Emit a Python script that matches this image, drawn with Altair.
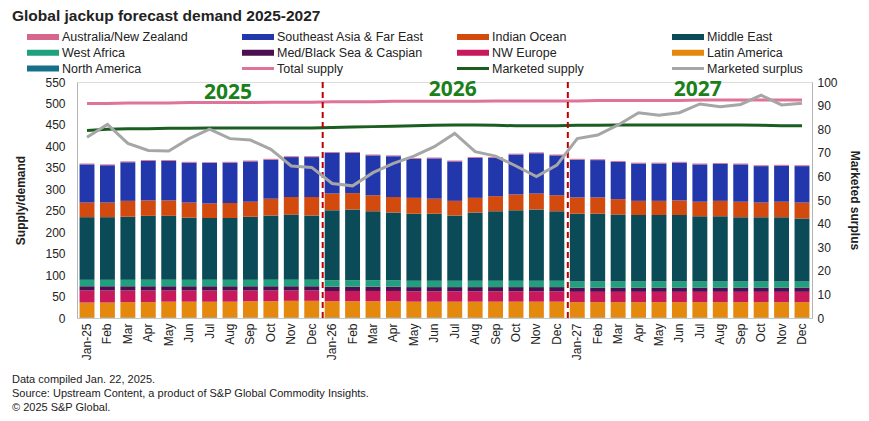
import altair as alt
import pandas as pd

# ---------------- data ----------------
month_names = ["Jan", "Feb", "Mar", "Apr", "May", "Jun", "Jul", "Aug", "Sep", "Oct", "Nov", "Dec"]
year_suffixes = ["25", "26", "27"]
periods = [f"{m}-{y}" for y in year_suffixes for m in month_names]

# stacked demand by region (bottom to top)
north_america = [1, 1, 1, 1, 1, 1, 1, 1, 1, 1, 1, 1,
                 1, 1, 1, 1, 1, 1, 1, 1, 1, 1, 1, 1,
                 1, 1, 1, 1, 1, 1, 1, 1, 1, 1, 1, 1]
latin_america = [35, 35, 36, 36, 37, 37, 37, 37, 38, 38, 39, 39,
                 38, 38, 38, 38, 37, 37, 37, 37, 37, 37, 37, 37,
                 36, 36, 36, 36, 36, 36, 36, 36, 36, 36, 36, 36]
nw_europe = [28, 28, 27, 27, 26, 26, 26, 26, 25, 25, 24, 24,
             24, 24, 24, 24, 24, 24, 24, 24, 24, 24, 24, 24,
             24, 24, 24, 24, 24, 24, 24, 24, 24, 24, 24, 24]
med_black_sea = [10, 10, 10, 10, 10, 10, 10, 10, 10, 10, 10, 10,
                 10, 10, 10, 10, 10, 10, 10, 10, 10, 10, 10, 10,
                 10, 10, 10, 10, 10, 10, 10, 10, 10, 10, 10, 10]
west_africa = [15, 15, 15, 15, 15, 15, 15, 15, 15, 15, 15, 15,
               15, 15, 15, 15, 15, 15, 15, 15, 15, 15, 15, 15,
               14, 14, 14, 14, 14, 14, 14, 14, 14, 14, 14, 14]
middle_east = [146, 146, 147, 149, 149, 145, 144, 144, 147, 150, 152, 150,
               163, 165, 161, 158, 156, 156, 152, 159, 162, 164, 166, 162,
               158, 158, 156, 155, 155, 155, 152, 152, 150, 150, 150, 147]
indian_ocean = [34, 34, 37, 36, 36, 35, 34, 35, 35, 39, 41, 43,
                39, 38, 37, 36, 37, 35, 34, 34, 35, 37, 37, 37,
                38, 38, 36, 33, 33, 34, 34, 36, 36, 34, 36, 37]
southeast_asia = [89, 87, 90, 92, 92, 93, 94, 94, 94, 91, 93, 93,
                  95, 94, 93, 95, 91, 94, 92, 93, 89, 93, 94, 93,
                  88, 87, 87, 87, 87, 88, 87, 86, 87, 85, 84, 85]
australia_nz = [2, 2, 2, 2, 2, 2, 2, 2, 2, 2, 2, 2,
                2, 2, 2, 2, 2, 2, 2, 2, 2, 2, 2, 2,
                2, 2, 2, 2, 2, 2, 2, 2, 2, 2, 2, 2]

total_supply = [500, 500, 501, 501, 501, 502, 502, 502, 502, 503, 503, 503,
                504, 504, 504, 505, 505, 505, 505, 505, 506, 506, 506, 506,
                506, 507, 507, 507, 507, 507, 508, 508, 508, 508, 508, 508]
marketed_supply = [437, 440, 441, 441, 442, 442, 443, 443, 443, 443, 443, 443,
                   444, 445, 446, 447, 448, 449, 450, 450, 449, 448, 448, 448,
                   449, 449, 450, 450, 450, 450, 450, 450, 450, 449, 448, 448]
marketed_surplus = [76.6, 82.0, 74.0, 71.0, 70.8, 76.0, 80.0, 76.0, 75.4, 71.5, 64.4, 63.8,
                    57.0, 56.0, 61.6, 65.5, 68.6, 72.6, 78.2, 70.5, 68.6, 64.4, 59.9, 64.8,
                    76.0, 77.5, 81.8, 87.0, 85.9, 87.0, 90.7, 89.5, 90.5, 94.4, 90.3, 91.0]

region_names = ["North America", "Latin America", "NW Europe", "Med/Black Sea & Caspian",
                "West Africa", "Middle East", "Indian Ocean", "Southeast Asia & Far East",
                "Australia/New Zealand"]
region_values = [north_america, latin_america, nw_europe, med_black_sea, west_africa,
                 middle_east, indian_ocean, southeast_asia, australia_nz]

legend_names = ["Australia/New Zealand", "Southeast Asia & Far East", "Indian Ocean", "Middle East",
                "West Africa", "Med/Black Sea & Caspian", "NW Europe", "Latin America",
                "North America", "Total supply", "Marketed supply", "Marketed surplus"]
legend_kinds = ["bar"] * 9 + ["line"] * 3

year_labels = ["2025", "2026", "2027"]
year_label_periods = ["Aug-25", "Jul-26", "Jul-27"]
year_label_levels = [524, 532, 532]

footnotes = ["Data compiled Jan. 22, 2025.",
             "Source: Upstream Content, a product of S&P Global Commodity Insights.",
             "\u00a9 2025 S&P Global."]

# ---------------- styles ----------------
palette = {
    "Australia/New Zealand": "#d6678c",
    "Southeast Asia & Far East": "#2337ac",
    "Indian Ocean": "#d24a0e",
    "Middle East": "#0b4b57",
    "West Africa": "#20a07d",
    "Med/Black Sea & Caspian": "#4b0e50",
    "NW Europe": "#c8195c",
    "Latin America": "#e4890e",
    "North America": "#16708a",
    "Total supply": "#e07399",
    "Marketed supply": "#1b5e20",
    "Marketed surplus": "#a6a6a6",
}
FONT = "Liberation Sans"
TXT = "#222222"

# ---------------- frames ----------------
rows = []
for s, (name, vals) in enumerate(zip(region_names, region_values)):
    for p, v in zip(periods, vals):
        rows.append({"period": p, "series": name, "value": v, "stack": s})
bars_df = pd.DataFrame(rows)

lines_df = pd.DataFrame({"period": periods, "total": total_supply,
                         "marketed": marketed_supply, "surplus": marketed_surplus})
bounds_df = pd.DataFrame({"period": ["Jan-26", "Jan-27"]})
years_df = pd.DataFrame({"period": year_label_periods, "label": year_labels, "level": year_label_levels})

leg_df = pd.DataFrame({"series": legend_names, "kind": legend_kinds,
                       "col": [i % 4 for i in range(len(legend_names))],
                       "row": [i // 4 for i in range(len(legend_names))]})
FOOT_ROW0 = 21.78
FOOT_STEP = 0.89
foot_df = pd.DataFrame({"text": footnotes, "col": [0] * len(footnotes),
                        "row": [FOOT_ROW0 + FOOT_STEP * i for i in range(len(footnotes))]})

color_scale = alt.Scale(domain=legend_names, range=[palette[n] for n in legend_names])

x_axis = alt.Axis(title=None, labelAngle=270, ticks=False, labelPadding=5,
                  labelExpr="indexof(datum.value, 'Jan') == 0 ? datum.value : slice(datum.value, 0, 3)",
                  labelOverlap=False, domainColor="#c8c8c8", labelFontSize=12,
                  labelFont=FONT, labelColor=TXT)
x_scale = alt.Scale(paddingInner=0.27, paddingOuter=0.125)


def X(**kw):
    return alt.X("period:N", sort=periods, scale=x_scale, axis=x_axis, **kw)


left_scale = alt.Scale(domain=[0, 550], nice=False)
left_axis = alt.Axis(title="Supply/demand", values=list(range(0, 551, 50)), ticks=False,
                     grid=False, labelPadding=12, domainColor="#b4b4b4", labelFontSize=12,
                     labelFont=FONT, labelColor=TXT, titleFont=FONT, titleFontSize=12,
                     titleFontWeight="bold", titleColor=TXT, titlePadding=17)

bars = alt.Chart(bars_df).mark_bar().encode(
    x=X(),
    y=alt.Y("value:Q", stack="zero", scale=left_scale, axis=left_axis),
    color=alt.Color("series:N", scale=color_scale, legend=None),
    order=alt.Order("stack:Q", sort="ascending"),
)
total_line = alt.Chart(lines_df).mark_line(color=palette["Total supply"], strokeWidth=3).encode(
    x=X(), y=alt.Y("total:Q", scale=left_scale, axis=left_axis))
mkt_line = alt.Chart(lines_df).mark_line(color=palette["Marketed supply"], strokeWidth=3).encode(
    x=X(), y=alt.Y("marketed:Q", scale=left_scale, axis=left_axis))
rules = alt.Chart(bounds_df).mark_rule(color="#c00000", strokeDash=[6, 4], strokeWidth=2, xOffset=-2).encode(
    x=X(bandPosition=0))
year_text = alt.Chart(years_df).mark_text(font="Open Sans", fontSize=21, fontWeight="bold",
                                          color="#1a801a", baseline="middle", dx=-2).encode(
    x=X(), y=alt.Y("level:Q", scale=left_scale, axis=left_axis), text="label:N")

left = alt.layer(bars, total_line, mkt_line, rules, year_text)

surplus = alt.Chart(lines_df).mark_line(color=palette["Marketed surplus"], strokeWidth=3).encode(
    x=X(),
    y=alt.Y("surplus:Q", scale=alt.Scale(domain=[0, 100], nice=False),
            axis=alt.Axis(orient="right", title="Marketed surplus", values=list(range(0, 101, 10)),
                          ticks=False, grid=False, labelPadding=5, domainColor="#b4b4b4",
                          labelFontSize=12, labelFont=FONT, labelColor=TXT, titleFont=FONT,
                          titleFontSize=12, titleFontWeight="bold", titleColor=TXT, titlePadding=10)),
)

main = alt.layer(left, surplus).resolve_scale(y="independent")

# guide layer: legend entries and footnotes laid out on a small grid
gx = alt.Scale(domain=[0, 3], range=[-50, 595])
gy = alt.Scale(domain=[0, 2], range=[-45, -13.5])

leg_sym = alt.Chart(leg_df).mark_rule(x2Offset=32).encode(
    x=alt.X("col:Q", scale=gx, axis=None),
    x2=alt.X2("col:Q"),
    y=alt.Y("row:Q", scale=gy, axis=None),
    color=alt.Color("series:N", scale=color_scale, legend=None),
    size=alt.Size("kind:N", scale=alt.Scale(domain=["bar", "line"], range=[6, 3]), legend=None),
)
leg_txt = alt.Chart(leg_df).mark_text(align="left", baseline="middle", dx=35, fontSize=12.5,
                                      font=FONT, color=TXT).encode(
    x=alt.X("col:Q", scale=gx, axis=None),
    y=alt.Y("row:Q", scale=gy, axis=None),
    text="series:N",
)
foot_txt = alt.Chart(foot_df).mark_text(align="left", baseline="middle", dx=-15, fontSize=11,
                                        font=FONT, color=TXT).encode(
    x=alt.X("col:Q", scale=gx, axis=None),
    y=alt.Y("row:Q", scale=gy, axis=None),
    text="text:N",
)
guides = alt.layer(leg_sym, leg_txt, foot_txt)

chart = alt.layer(main, guides).resolve_scale(x="independent", y="independent").properties(
    width=735, height=236,
    title=alt.TitleParams("Global jackup forecast demand 2025-2027", anchor="start", fontSize=15.5,
                          fontWeight="bold", font=FONT, color=TXT, offset=7),
    autosize=alt.AutoSizeParams(type="none"),
    padding={"left": 69, "top": 74, "right": 49, "bottom": 95},
).configure_view(stroke=None).configure(background="white")

chart.save("out.html", embed_options={"renderer": "svg", "actions": False})
